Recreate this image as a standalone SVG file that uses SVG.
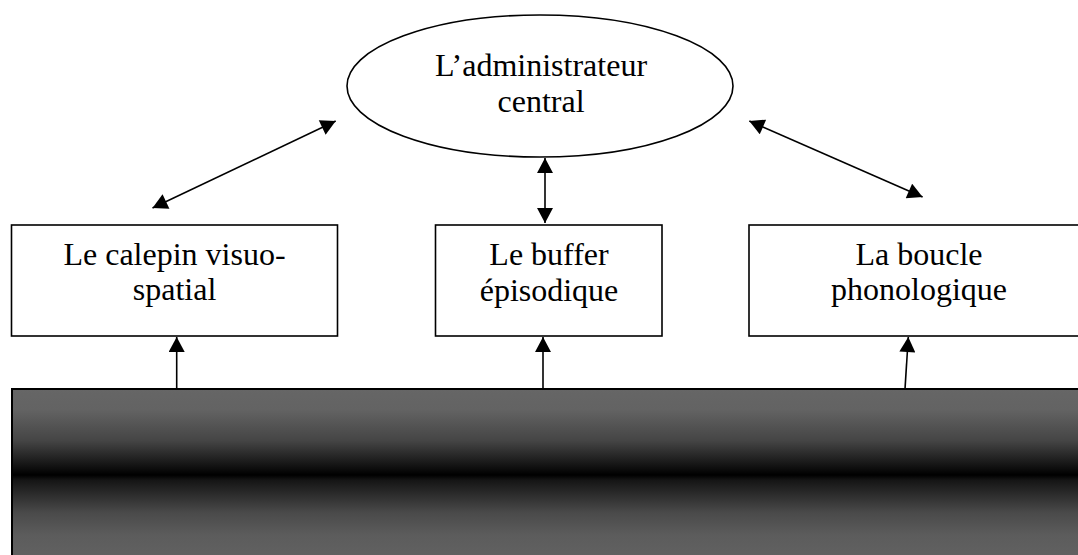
<svg xmlns="http://www.w3.org/2000/svg" width="1078" height="555" viewBox="0 0 1078 555">
  <style>
    .shape { fill: #ffffff; stroke: #000000; stroke-width: 1.6; }
    .label { font-family: "Liberation Serif", "Times New Roman", serif; font-size: 32px; fill: #000000; text-anchor: middle; }
    .conn { stroke: #000000; stroke-width: 1.6; fill: none; }
  </style>
  <defs>
    <marker id="arrow" markerUnits="userSpaceOnUse" markerWidth="16" markerHeight="16" viewBox="0 0 14 15" refX="14" refY="7.5" orient="auto-start-reverse">
      <path d="M0,0 L14,7.5 L0,15 Z" fill="#000000"/>
    </marker>
    <linearGradient id="band" x1="0" y1="0" x2="0" y2="1">
      <stop offset="0" stop-color="#666666"/>
      <stop offset="0.12" stop-color="#636363"/>
      <stop offset="0.3" stop-color="#454545"/>
      <stop offset="0.42" stop-color="#1c1c1c"/>
      <stop offset="0.5" stop-color="#000000"/>
      <stop offset="0.53" stop-color="#151515"/>
      <stop offset="0.62" stop-color="#2e2e2e"/>
      <stop offset="0.72" stop-color="#4a4a4a"/>
      <stop offset="0.85" stop-color="#5c5c5c"/>
      <stop offset="1" stop-color="#626262"/>
    </linearGradient>
  </defs>
  <rect width="1078" height="555" fill="#ffffff"/>

  <g id="base">
    <rect x="12" y="389" width="1080" height="172" fill="url(#band)" stroke="#000000" stroke-width="2"/>
  </g>

  <g id="administrateur-central">
    <ellipse class="shape" cx="540" cy="86" rx="193" ry="71"/>
    <text class="label" x="541" y="76">L’administrateur</text>
    <text class="label" x="541" y="112">central</text>
  </g>

  <g id="calepin">
    <rect class="shape" x="11.5" y="225" width="326" height="111"/>
    <text class="label" x="174.5" y="265">Le calepin visuo-</text>
    <text class="label" x="174.5" y="300">spatial</text>
  </g>

  <g id="buffer">
    <rect class="shape" x="435.5" y="225" width="226.5" height="111"/>
    <text class="label" x="549" y="265">Le buffer</text>
    <text class="label" x="549" y="301">épisodique</text>
  </g>

  <g id="boucle">
    <rect class="shape" x="749" y="225" width="340" height="111"/>
    <text class="label" x="919" y="265">La boucle</text>
    <text class="label" x="919" y="300">phonologique</text>
  </g>

  <g id="connectors">
    <line class="conn" x1="152.5" y1="208" x2="335.7" y2="121" marker-start="url(#arrow)" marker-end="url(#arrow)"/>
    <line class="conn" x1="545" y1="223" x2="545" y2="158" marker-start="url(#arrow)" marker-end="url(#arrow)"/>
    <line class="conn" x1="922.6" y1="197" x2="749.3" y2="121" marker-start="url(#arrow)" marker-end="url(#arrow)"/>
    <line class="conn" x1="176.7" y1="389" x2="176.7" y2="337" marker-end="url(#arrow)"/>
    <line class="conn" x1="543" y1="389" x2="543" y2="337" marker-end="url(#arrow)"/>
    <line class="conn" x1="905" y1="389" x2="908.3" y2="337" marker-end="url(#arrow)"/>
  </g>
</svg>
